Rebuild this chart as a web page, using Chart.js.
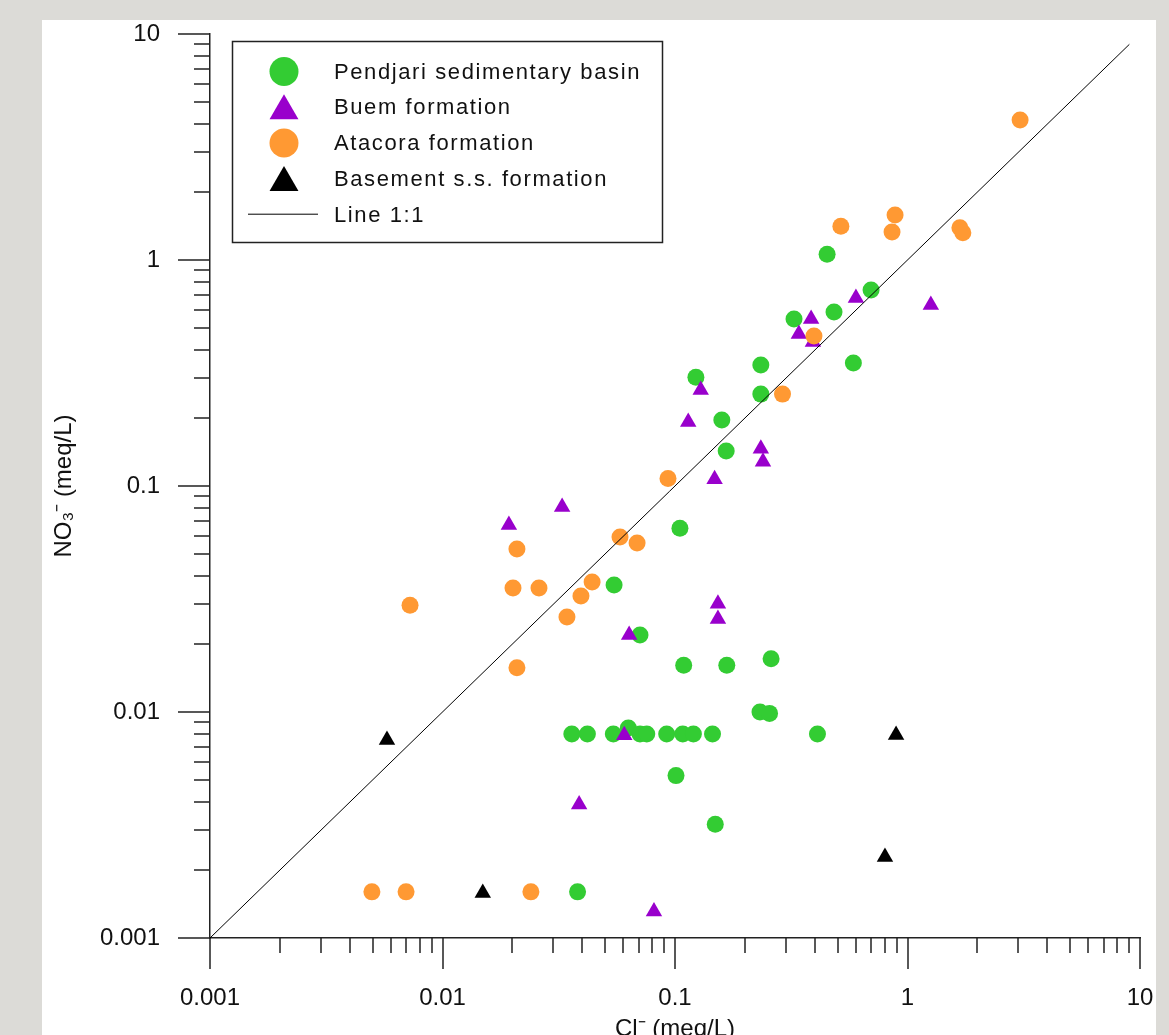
<!DOCTYPE html>
<html>
<head>
<meta charset="utf-8">
<title>NO3 vs Cl</title>
<script src="https://cdn.jsdelivr.net/npm/chart.js@4.4.1/dist/chart.umd.min.js"></script>
<style>
    html, body { margin: 0; padding: 0; width: 1169px; height: 1035px; overflow: hidden; background: #dcdbd7; }
    #panel { position: absolute; left: 42px; top: 20px; width: 1114px; height: 1040px; background: #fff; }
    canvas { display: block; }
</style>
</head>
<body>
<div id="panel"><canvas id="scatterChart" width="1114" height="1040"></canvas></div>
<script>
// Axis decades and their labels
const decades = [0.001, 0.01, 0.1, 1, 10];
const decadeLabels = ['0.001', '0.01', '0.1', '1', '10'];
const minorSteps = [2, 3, 4, 5, 6, 7, 8, 9];

const seriesNames = ['Pendjari sedimentary basin', 'Buem formation', 'Atacora formation', 'Basement s.s. formation', 'Line 1:1'];

// Pendjari sedimentary basin (Cl-, NO3-) in meq/L
const pendjariCl = [0.451, 0.697, 0.483, 0.325, 0.234, 0.585, 0.123, 0.234, 0.159, 0.166, 0.105, 0.0547, 0.0707, 0.109, 0.167, 0.259,
    0.0360, 0.0420, 0.0543, 0.0630, 0.0707, 0.0756, 0.0921, 0.108, 0.120, 0.145, 0.410, 0.232, 0.255, 0.101, 0.149, 0.0381];
const pendjariNO3 = [1.06, 0.736, 0.589, 0.548, 0.343, 0.35, 0.303, 0.255, 0.196, 0.143, 0.065, 0.0365, 0.0219, 0.0161, 0.0161, 0.0172,
    0.008, 0.008, 0.008, 0.0085, 0.008, 0.008, 0.008, 0.008, 0.008, 0.008, 0.008, 0.0100, 0.00986, 0.00523, 0.00319, 0.0016];

// Buem formation
const buemCl = [0.0193, 0.0327, 0.114, 0.129, 0.148, 0.234, 0.239, 0.153, 0.153, 0.0635, 0.0605, 0.0387, 0.0812, 0.341, 0.385, 0.392, 0.600, 1.26];
const buemNO3 = [0.0672, 0.0807, 0.192, 0.266, 0.107, 0.146, 0.128, 0.0301, 0.0258, 0.0219, 0.0079, 0.0039, 0.00131, 0.471, 0.548, 0.434, 0.679, 0.632];

// Atacora formation
const atacoraCl = [3.05, 0.884, 0.517, 0.858, 1.68, 1.73, 0.396, 0.290, 0.0933, 0.0209, 0.0580, 0.0687, 0.0201, 0.0260, 0.0440, 0.0394,
    0.0343, 0.00725, 0.0209, 0.0240, 0.00497, 0.00697];
const atacoraNO3 = [4.16, 1.58, 1.41, 1.33, 1.39, 1.32, 0.461, 0.255, 0.108, 0.0526, 0.0595, 0.0560, 0.0354, 0.0354, 0.0376, 0.0326,
    0.0263, 0.0297, 0.0157, 0.0016, 0.0016, 0.0016];

// Basement s.s. formation
const basementCl = [0.00577, 0.0149, 0.80, 0.893];
const basementNO3 = [0.00752, 0.00158, 0.00228, 0.00791];

// 1:1 reference line
const lineCl = [0.001, 9];
const lineNO3 = [0.001, 9];

const fontFamily = '"Liberation Sans", Arial, sans-serif';
const inkColor = '#111';
const axisColor = '#222';

function toPoints(xs, ys) {
    return xs.map((x, i) => ({ x: x, y: ys[i] }));
}

// all log ticks: 1..9 x 10^n, labels only on decades
const tickValues = [];
decades.forEach((d, i) => {
    tickValues.push(d);
    if (i < decades.length - 1) {
        minorSteps.forEach(m => tickValues.push(+(d * m).toPrecision(3)));
    }
});

function tickLabel(value) {
    const idx = decades.indexOf(value);
    return idx >= 0 ? decadeLabels[idx] : '';
}

// keep the plot area where the layout padding puts it (tick padding would push it in)
function clearScalePadding(scale) {
    scale.paddingTop = 0;
    scale.paddingBottom = 0;
    scale.paddingLeft = 0;
    scale.paddingRight = 0;
}

// Draws major (long) and minor (short) outward tick marks from the scales
const tickMarks = {
    id: 'tickMarks',
    afterDraw(chart) {
        const { ctx, chartArea } = chart;
        const xs = chart.scales.x;
        const ys = chart.scales.y;
        ctx.save();
        ctx.strokeStyle = axisColor;
        ctx.lineWidth = 1.5;
        ctx.beginPath();
        xs.ticks.forEach(t => {
            const px = Math.round(xs.getPixelForValue(t.value));
            const len = decades.includes(t.value) ? 31 : 15;
            ctx.moveTo(px, chartArea.bottom);
            ctx.lineTo(px, chartArea.bottom + len);
        });
        ys.ticks.forEach(t => {
            const py = Math.round(ys.getPixelForValue(t.value));
            const len = decades.includes(t.value) ? 32 : 16;
            ctx.moveTo(chartArea.left, py);
            ctx.lineTo(chartArea.left - len, py);
        });
        ctx.stroke();
        ctx.restore();
    }
};

// Boxed legend in the upper left of the plot
const boxLegend = {
    id: 'boxLegend',
    afterDraw(chart) {
        const ctx = chart.ctx;
        ctx.save();
        ctx.fillStyle = '#fff';
        ctx.fillRect(190.5, 21.5, 430, 201);
        ctx.strokeStyle = axisColor;
        ctx.lineWidth = 1.5;
        ctx.strokeRect(190.5, 21.5, 430, 201);

        ctx.font = '22px ' + fontFamily;
        if ('letterSpacing' in ctx) ctx.letterSpacing = '1.6px';
        ctx.textAlign = 'left';
        ctx.textBaseline = 'alphabetic';

        chart.data.datasets.forEach((ds, i) => {
            const base = 58.5 + i * 35.8;
            const mid = base - 7.5;
            const cx = 242;
            ctx.fillStyle = ds.backgroundColor;
            if (ds.showLine) {
                ctx.beginPath();
                ctx.strokeStyle = ds.borderColor;
                ctx.lineWidth = 1;
                ctx.moveTo(206, mid);
                ctx.lineTo(276, mid);
                ctx.stroke();
            } else if (ds.pointStyle === 'triangle') {
                const r = 16.7;
                const cy = mid + r / 4;
                ctx.beginPath();
                ctx.moveTo(cx, cy - r);
                ctx.lineTo(cx + r * Math.sin(Math.PI / 3), cy + r / 2);
                ctx.lineTo(cx - r * Math.sin(Math.PI / 3), cy + r / 2);
                ctx.closePath();
                ctx.fill();
            } else {
                ctx.beginPath();
                ctx.arc(cx, mid + 0.5, 14.5, 0, Math.PI * 2);
                ctx.fill();
            }
            ctx.fillStyle = inkColor;
            ctx.fillText(ds.label, 292, base);
        });
        ctx.restore();
    }
};

const ctx = document.getElementById('scatterChart').getContext('2d');

new Chart(ctx, {
    type: 'scatter',
    data: {
        datasets: [
            {
                label: seriesNames[0],
                data: toPoints(pendjariCl, pendjariNO3),
                pointStyle: 'circle',
                pointRadius: 8.5,
                backgroundColor: '#33cc33',
                borderWidth: 0,
                order: 4
            },
            {
                label: seriesNames[1],
                data: toPoints(buemCl, buemNO3),
                pointStyle: 'triangle',
                pointRadius: 9.5,
                backgroundColor: '#9900cc',
                borderWidth: 0,
                order: 2
            },
            {
                label: seriesNames[2],
                data: toPoints(atacoraCl, atacoraNO3),
                pointStyle: 'circle',
                pointRadius: 8.5,
                backgroundColor: '#ff9933',
                borderWidth: 0,
                order: 1
            },
            {
                label: seriesNames[3],
                data: toPoints(basementCl, basementNO3),
                pointStyle: 'triangle',
                pointRadius: 9.5,
                backgroundColor: '#000000',
                borderWidth: 0,
                order: 3
            },
            {
                label: seriesNames[4],
                data: toPoints(lineCl, lineNO3),
                showLine: true,
                borderColor: '#000000',
                backgroundColor: '#000000',
                borderWidth: 1,
                pointRadius: 0,
                order: 0
            }
        ]
    },
    options: {
        responsive: false,
        animation: false,
        devicePixelRatio: 1,
        layout: { padding: { left: 0, top: 14, right: 16, bottom: 0 } },
        plugins: {
            legend: { display: false },
            tooltip: { enabled: false }
        },
        scales: {
            x: {
                type: 'logarithmic',
                position: 'bottom',
                min: 0.001,
                max: 10,
                afterBuildTicks: scale => { scale.ticks = tickValues.map(v => ({ value: v })); },
                afterFit: scale => { scale.height = 122; clearScalePadding(scale); },
                grid: { display: false, drawTicks: false },
                border: { display: true, color: axisColor, width: 1.5 },
                ticks: {
                    autoSkip: false,
                    maxRotation: 0,
                    padding: 46,
                    color: inkColor,
                    font: { family: fontFamily, size: 24 },
                    callback: value => tickLabel(value)
                },
                title: {
                    display: true,
                    text: 'Cl⁻ (meq/L)',
                    color: inkColor,
                    font: { family: fontFamily, size: 24 },
                    padding: { top: 0, bottom: 16 }
                }
            },
            y: {
                type: 'logarithmic',
                position: 'left',
                min: 0.001,
                max: 10,
                afterBuildTicks: scale => { scale.ticks = tickValues.map(v => ({ value: v })); },
                afterFit: scale => { scale.width = 168; clearScalePadding(scale); },
                grid: { display: false, drawTicks: false },
                border: { display: true, color: axisColor, width: 1.5 },
                ticks: {
                    autoSkip: false,
                    padding: 50,
                    color: inkColor,
                    font: { family: fontFamily, size: 24 },
                    callback: value => tickLabel(value)
                },
                title: {
                    display: true,
                    text: 'NO₃⁻ (meq/L)',
                    color: inkColor,
                    font: { family: fontFamily, size: 24 },
                    padding: { top: 7.6, bottom: 0 }
                }
            }
        }
    },
    plugins: [tickMarks, boxLegend]
});
</script>
</body>
</html>
